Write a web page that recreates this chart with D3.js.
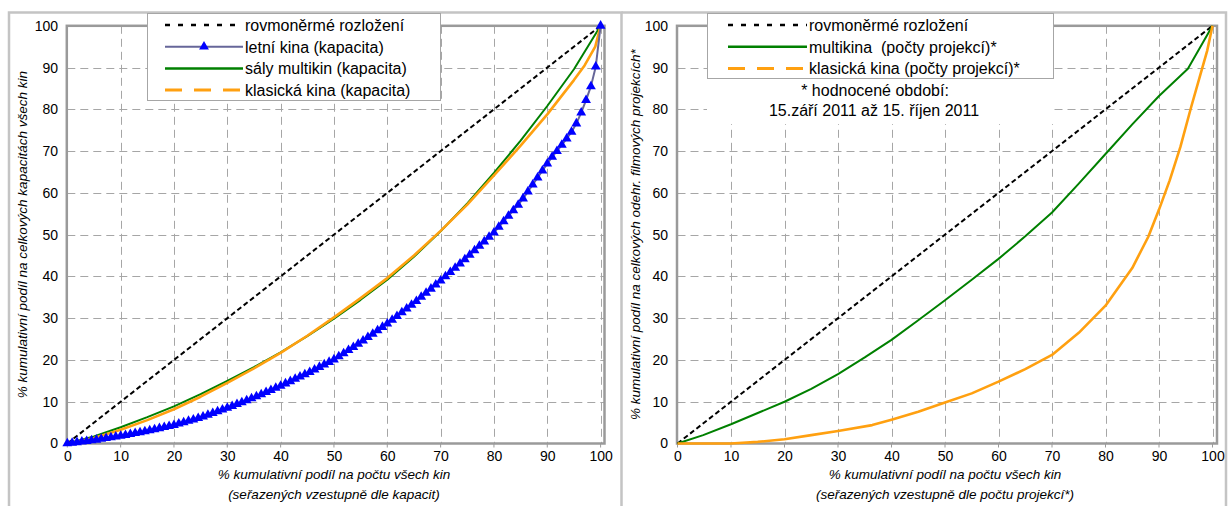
<!DOCTYPE html>
<html><head><meta charset="utf-8">
<script src="https://cdn.jsdelivr.net/npm/d3@7"></script>
<style>
body{margin:0;background:#fff}
svg{display:block}
text{font-family:"Liberation Sans",Arial,sans-serif;white-space:pre}
</style>
</head><body>
<svg id="c" width="1229" height="506"></svg>
<script>
// ---------- data ----------
const tickValues = [0,10,20,30,40,50,60,70,80,90,100];
const uniformX = [0,100];
const uniformY = [0,100];

// letní kina (kapacita) – 111 cumulative points, x = equal share per cinema
const letniY = [0,0.15,0.29,0.44,0.58,0.73,0.89,1.07,1.25,1.44,1.62,1.80,2.02,2.24,2.46,2.67,2.89,3.13,3.38,3.64,3.89,
4.15,4.40,4.73,5.06,5.38,5.71,6.04,6.41,6.83,7.25,7.66,8.08,8.50,8.95,9.41,9.86,10.32,10.77,11.25,11.76,
12.27,12.78,13.29,13.80,14.35,14.89,15.44,15.98,16.53,17.10,17.70,18.30,18.90,19.50,20.10,20.85,21.59,22.34,23.08,23.83,
24.61,25.43,26.25,27.06,27.88,28.70,29.59,30.48,31.38,32.27,33.16,34.09,35.07,36.05,37.04,38.02,39.00,40.02,41.04,42.05,
43.07,44.09,45.13,46.21,47.28,48.35,49.43,50.50,51.83,53.16,54.49,55.81,57.14,58.64,60.31,61.99,63.66,65.33,67.00,68.60,
70.00,71.50,73.00,74.60,76.60,79.20,82.20,85.50,90.20,100];

const multikinX = [0,5,10,15,20,25,30,35,40,45,50,55,60,65,70,75,80,85,90,95,100];
const multikinY = [0,1.7,3.9,6.3,8.9,11.8,15.0,18.3,21.8,25.7,29.9,34.4,39.2,44.7,50.8,57.5,64.8,72.5,80.8,89.6,100];

const klasickaX = [0,5,10,15,20,25,30,35,40,45,50,55,60,65,70,75,80,85,90,95,97,99,100];
const klasickaY = [0,1.3,3.3,5.6,8.2,11.2,14.5,18.0,21.7,25.8,30.2,34.8,39.6,45.0,50.9,57.2,64.2,71.3,78.8,87.0,90.5,95.0,100];

const projMultiX = [0,4.8,10,15,20,25,30,35,40,45,50,55,60,65,70,75,80,85,90,95.4,100];
const projMultiY = [0,2.0,4.6,7.3,10.0,13.1,16.6,20.6,24.8,29.5,34.3,39.2,44.2,49.6,55.3,62.2,69.3,76.4,83.2,89.7,100];

const projKlasX = [0,5,10,15,20,25,30,36.4,40,45,50,55,60,65,70,75,80,85,88,90,92,94,96,98,99,100];
const projKlasY = [0,0,0,0.4,1.0,2.0,3.0,4.4,5.7,7.6,9.8,12.0,14.8,17.8,21.2,26.5,33.0,42.0,49.5,56.0,63.0,71.0,80.5,89.5,94.0,100];

// ---------- drawing ----------
const svg = d3.select("#c");
const GREEN="#008000", ORANGE="#ffa010", BLUE="#0000ff", BLUELINE="#666699";
const FONT_LEG = 16, FONT_TICK = 14, FONT_TITLE = 13.5;

// panel borders
svg.append("path").attr("d","M9,506V12.5H621.5V506").attr("fill","none").attr("stroke","#c4c4c4").attr("stroke-width",2.5);
svg.append("path").attr("d","M621.5,12.5H1226V506").attr("fill","none").attr("stroke","#c4c4c4").attr("stroke-width",2.5);

function panel(cfg){
  const x = d3.scaleLinear().domain([0,100]).range([cfg.x0,cfg.x1]);
  const y = d3.scaleLinear().domain([0,100]).range([443.5,25.8]);
  const g = svg.append("g");
  // grid
  const grid = g.append("g").attr("stroke","#a6a6a6").attr("stroke-width",1).attr("stroke-dasharray","8,5");
  tickValues.filter(t=>t>0).forEach(t=>{
    grid.append("line").attr("x1",Math.round(x(t))+0.5).attr("x2",Math.round(x(t))+0.5).attr("y1",y(100)).attr("y2",y(0));
    if(t<100) grid.append("line").attr("x1",x(0)).attr("x2",cfg.frameR).attr("y1",Math.round(y(t))+0.5).attr("y2",Math.round(y(t))+0.5);
  });
  // frame
  g.append("rect").attr("x",x(0)-0.5).attr("y",y(100)).attr("width",cfg.frameR-x(0)+0.5).attr("height",y(0)-y(100))
    .attr("fill","none").attr("stroke","#9a9a9a").attr("stroke-width",2.5);
  // x ticks
  g.append("g").selectAll("line").data(tickValues).join("line")
    .attr("x1",d=>x(d)).attr("x2",d=>x(d)).attr("y1",y(0)).attr("y2",y(0)+4).attr("stroke","#9a9a9a").attr("stroke-width",1);
  // axes labels via d3 axes
  const xa = g.append("g").attr("transform",`translate(0,${y(0)+5})`)
    .call(d3.axisBottom(x).tickValues(tickValues).tickSize(0).tickPadding(3));
  xa.select(".domain").remove();
  xa.selectAll("text").attr("font-size",FONT_TICK).attr("font-family","Liberation Sans, Arial").attr("fill","#000");
  const ya = g.append("g").attr("transform",`translate(${cfg.yLabelX},0)`)
    .call(d3.axisLeft(y).tickValues(tickValues).tickSize(0).tickPadding(0));
  ya.select(".domain").remove();
  ya.selectAll("text").attr("font-size",FONT_TICK).attr("font-family","Liberation Sans, Arial").attr("fill","#000");
  // axis titles
  const cx = x(50);
  g.append("text").attr("x",cx).attr("y",479).attr("text-anchor","middle").attr("font-size",FONT_TITLE).attr("font-style","italic").text(cfg.xTitle1);
  g.append("text").attr("x",cx).attr("y",499).attr("text-anchor","middle").attr("font-size",FONT_TITLE).attr("font-style","italic").text(cfg.xTitle2);
  g.append("text").attr("transform",`translate(${cfg.yTitleX},${y(50)}) rotate(-90)`).attr("text-anchor","middle")
    .attr("font-size",FONT_TITLE).attr("font-style","italic").text(cfg.yTitle);
  return {x,y,g};
}

function line(p, xs, ys, color, w, dash){
  const pts = xs.map((v,i)=>[v,ys[i]]);
  const gen = d3.line().x(d=>p.x(d[0])).y(d=>p.y(d[1]));
  const path = p.g.append("path").attr("d",gen(pts)).attr("fill","none").attr("stroke",color).attr("stroke-width",w).attr("stroke-linejoin","round");
  if(dash) path.attr("stroke-dasharray",dash);
  return path;
}
const tri = d3.symbol().type(d3.symbolTriangle).size(42);

// ---- left panel ----
const L = panel({x0:67.3,x1:600.6,frameR:604.5,yLabelX:58,yTitleX:27,
  xTitle1:"% kumulativní podíl na počtu všech kin",xTitle2:"(seřazených vzestupně dle kapacit)",
  yTitle:"% kumulativní podíl na celkových kapacitách všech kin"});
line(L, uniformX, uniformY, "#000", 2, "5,3");
line(L, multikinX, multikinY, GREEN, 2);
line(L, klasickaX, klasickaY, ORANGE, 2.6);
const letniX = letniY.map((_,i)=>i*100/(letniY.length-1));
line(L, letniX, letniY, BLUELINE, 2);
L.g.append("g").selectAll("path").data(letniY).join("path")
  .attr("d",tri).attr("fill",BLUE)
  .attr("transform",(d,i)=>`translate(${L.x(letniX[i])},${L.y(d)})`);

// ---- right panel ----
const R = panel({x0:677.5,x1:1212.5,frameR:1217,yLabelX:668,yTitleX:640,
  xTitle1:"% kumulativní podíl na počtu všech kin",xTitle2:"(seřazených vzestupně dle počtu projekcí*)",
  yTitle:"% kumulativní podíl na celkových odehr. filmových projekcích*"});
line(R, uniformX, uniformY, "#000", 2, "5,3");
line(R, projMultiX, projMultiY, GREEN, 2);
line(R, projKlasX, projKlasY, ORANGE, 2.6);

// ---- legends ----
function legend(x0,w,h,items,sx0,sx1){
  const g = svg.append("g");
  g.append("rect").attr("x",x0+0.5).attr("y",13.5).attr("width",w).attr("height",h).attr("fill","#fff").attr("stroke","#a6a6a6").attr("stroke-width",1);
  items.forEach((it,i)=>{
    const yy = 25 + i*21.7;
    const l = g.append("line").attr("x1",sx0).attr("x2",sx1).attr("y1",yy).attr("y2",yy).attr("stroke",it.color).attr("stroke-width",it.w);
    if(it.dash) l.attr("stroke-dasharray",it.dash);
    if(it.marker) g.append("path").attr("d",tri).attr("fill",BLUE).attr("transform",`translate(${(sx0+sx1)/2},${yy})`);
    g.append("text").attr("x",sx1+2).attr("y",yy+6).attr("font-size",FONT_LEG).text(it.label);
  });
  return g;
}
legend(147,293,87,[
  {label:"rovmoněrmé rozložení",color:"#000",w:2.5,dash:"5,8"},
  {label:"letní kina (kapacita)",color:BLUELINE,w:2,marker:true},
  {label:"sály multikin (kapacita)",color:GREEN,w:2.5},
  {label:"klasická kina (kapacita)",color:ORANGE,w:3,dash:"17,12"}
],165,243);

svg.append("rect").attr("x",707).attr("y",78).attr("width",346).attr("height",46).attr("fill","#fff");
legend(707,346,65,[
  {label:"rovmoněrmé rozložení",color:"#000",w:2.5,dash:"5,8"},
  {label:"multikina  (počty projekcí)*",color:GREEN,w:2.5},
  {label:"klasická kina (počty projekcí)*",color:ORANGE,w:3,dash:"17,12"}
],728,807);
svg.append("text").attr("x",875).attr("y",96).attr("text-anchor","middle").attr("font-size",FONT_LEG).text("* hodnocené období:");
svg.append("text").attr("x",874).attr("y",116).attr("text-anchor","middle").attr("font-size",FONT_LEG).text("15.září 2011 až 15. říjen 2011");
</script>
</body></html>
